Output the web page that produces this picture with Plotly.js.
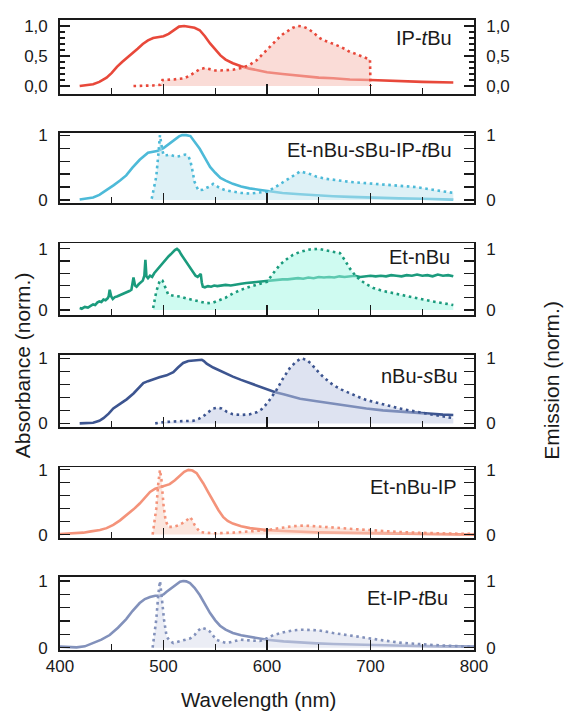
<!DOCTYPE html>
<html>
<head>
<meta charset="utf-8">
<script src="https://cdn.plot.ly/plotly-3.0.1.min.js"></script>
<style>html,body{margin:0;padding:0;background:#fff;}#chart{width:566px;height:719px;}</style>
</head>
<body>
<div id="chart"></div>
<script>
// ---------- DATA ----------
const panelNames = ["IP-<i>t</i>Bu", "Et-nBu-<i>s</i>Bu-IP-<i>t</i>Bu", "Et-nBu", "nBu-<i>s</i>Bu", "Et-nBu-IP", "Et-IP-<i>t</i>Bu"];
const xTickVals = [400, 500, 600, 700, 800];

// Panel 1: IP-tBu
const p1AbsX = [419,425,432,438,445,450,455,460,465,470,475,480,485,490,495,500,505,510,515,520,525,530,535,540,545,550,555,560,567,575,583,592,600,615,632,650,664,680,700,728,750,780];
const p1AbsY = [0.0,0.01,0.03,0.07,0.14,0.22,0.32,0.4,0.47,0.54,0.62,0.7,0.76,0.8,0.81,0.83,0.87,0.93,0.99,1.0,0.99,0.97,0.93,0.83,0.71,0.6,0.51,0.44,0.38,0.33,0.29,0.26,0.23,0.2,0.17,0.14,0.13,0.11,0.1,0.08,0.07,0.06];
const p1EmX = [471,480,490,497,499,500,505,510,515,520,525,530,535,540,545,550,555,560,567,575,583,590,595,600,605,610,615,620,625,630,635,640,645,650,655,660,665,670,675,680,685,690,695,699.5,700];
const p1EmY = [0,0.0,0.01,0.02,0.1,0.1,0.1,0.11,0.12,0.13,0.17,0.23,0.28,0.3,0.28,0.26,0.26,0.26,0.27,0.3,0.35,0.43,0.52,0.6,0.69,0.78,0.86,0.92,0.97,1.0,0.99,0.95,0.89,0.81,0.76,0.73,0.7,0.66,0.62,0.57,0.54,0.51,0.48,0.44,0.0];

// Panel 2: Et-nBu-sBu-IP-tBu
const p2AbsX = [419,425,432,438,445,452,458,464,470,477,485,490,495,500,505,510,515,518,522,526,530,535,540,545,550,555,560,567,575,583,592,600,615,632,650,664,680,696,712,728,750,780];
const p2AbsY = [0.01,0.02,0.04,0.08,0.15,0.23,0.3,0.38,0.5,0.62,0.73,0.75,0.76,0.8,0.86,0.93,0.98,1.0,1.0,0.985,0.9,0.79,0.65,0.51,0.42,0.34,0.3,0.25,0.21,0.18,0.16,0.14,0.11,0.09,0.07,0.06,0.05,0.04,0.03,0.026,0.02,0.01];
const p2EmX = [488.6,491,493,495,496.6,498,500,503,506,510,513,517,521,524,526,528,530,533.6,538,541.7,545,548,551,555,560,567,575,583.5,592,600,608,616,624,632,640,648,656,664,680,696,712,728,744,760,770,780];
const p2EmY = [0.02,0.2,0.36,0.7,1.0,0.85,0.69,0.69,0.7,0.68,0.67,0.68,0.7,0.68,0.6,0.45,0.28,0.15,0.16,0.19,0.21,0.25,0.22,0.18,0.15,0.13,0.11,0.1,0.11,0.13,0.2,0.28,0.37,0.44,0.41,0.36,0.33,0.31,0.28,0.26,0.24,0.22,0.2,0.16,0.13,0.11];

// Panel 3: Et-nBu
const p3AbsX = [419,421,424,427,430,432,434,436,438,440,442,444,446,447,448,449.5,451,453,455,458,461,464,467,469,470,471,472.5,474,476,478,480,481.5,482.5,483.5,485,487,489,491,493,495,497,499,501,503,505,507,509,511,513,515,517,519,521,523,525,527,529,531,533,535,536,537,538,540,543,546,549,552,556,560,565,570,575,580,585,590,595,600,605,610,615,620,625,630,635,640,645,650,655,660,665,670,675,680,685,690,695,700,705,710,715,720,725,730,735,740,745,750,755,760,765,770,775,780];
const p3AbsY = [0.03,0.02,0.05,0.04,0.07,0.09,0.08,0.12,0.14,0.13,0.17,0.16,0.19,0.22,0.33,0.22,0.18,0.21,0.22,0.24,0.26,0.28,0.31,0.33,0.44,0.53,0.4,0.38,0.42,0.45,0.48,0.56,0.82,0.55,0.52,0.56,0.54,0.6,0.64,0.69,0.73,0.77,0.81,0.85,0.88,0.91,0.95,0.98,1.0,0.97,0.91,0.86,0.81,0.76,0.71,0.66,0.6,0.56,0.54,0.58,0.59,0.45,0.38,0.37,0.39,0.38,0.4,0.39,0.4,0.41,0.4,0.42,0.43,0.44,0.45,0.46,0.47,0.48,0.48,0.49,0.5,0.5,0.51,0.52,0.51,0.53,0.52,0.54,0.53,0.54,0.53,0.55,0.54,0.55,0.56,0.54,0.55,0.56,0.55,0.56,0.55,0.57,0.56,0.55,0.57,0.56,0.58,0.56,0.57,0.55,0.58,0.56,0.57,0.55];
const p3EmX = [490,493,496.6,499,501,504.6,510,516,522,529,535,541.7,548,554.6,560,567,575,583.5,592,600,606,612.5,619,625,632,641.5,650,657.6,664,670.5,675,680,685,690,696,702.7,712,720,728,744,760,770,780];
const p3EmY = [0.03,0.3,0.49,0.48,0.4,0.25,0.23,0.22,0.19,0.16,0.13,0.11,0.12,0.16,0.2,0.27,0.33,0.38,0.42,0.46,0.6,0.74,0.83,0.9,0.95,0.99,1.0,0.97,0.95,0.93,0.82,0.68,0.57,0.49,0.42,0.36,0.31,0.28,0.25,0.19,0.14,0.11,0.08];

// Panel 4: nBu-sBu
const p4AbsX = [419,425,432,438,442,447,451.5,458,464.4,471,476,480.5,485,490,496,503,509.5,514,519,524,529,533,537,539,541.7,548,554.6,560,567,575,583.5,592,600,608,616,624,632,648,664,680,696,712,728,744,760.6,770,780];
const p4AbsY = [0.0,0.0,0.01,0.04,0.08,0.15,0.23,0.3,0.37,0.46,0.55,0.62,0.65,0.68,0.71,0.74,0.79,0.86,0.93,0.96,0.97,0.975,0.98,0.96,0.92,0.86,0.81,0.77,0.72,0.67,0.62,0.57,0.52,0.48,0.45,0.41,0.38,0.34,0.3,0.26,0.23,0.2,0.18,0.16,0.14,0.135,0.13];
const p4EmX = [492,500,510,520,529,534,538.5,543,548,552,556,561,567,575,583.5,590,596,602,609,615,622,628,633,638,642.6,648,654,660,664,672,680,688,696,712,728,744,760.6,770,780];
const p4EmY = [0,0.02,0.03,0.03,0.04,0.07,0.11,0.17,0.23,0.24,0.23,0.18,0.14,0.13,0.14,0.17,0.23,0.35,0.51,0.68,0.85,0.95,1.0,0.98,0.92,0.82,0.72,0.64,0.59,0.52,0.46,0.41,0.36,0.29,0.23,0.18,0.13,0.1,0.08];

// Panel 5: Et-nBu-IP
const p5AbsX = [400,410,422.5,430,438.6,445,451.5,458,464.4,471,477,482,487,492,496.6,501,506,511,516,520,524,528,532,535,538.5,543,548,553,557.8,562,567,575,583.5,592,600,616,632,648,664,696,728,760,800];
const p5AbsY = [0.01,0.015,0.03,0.05,0.07,0.1,0.15,0.22,0.3,0.39,0.48,0.57,0.66,0.71,0.73,0.75,0.78,0.84,0.92,0.97,1.0,0.99,0.95,0.88,0.79,0.66,0.51,0.38,0.27,0.21,0.17,0.13,0.1,0.085,0.07,0.055,0.04,0.035,0.03,0.022,0.015,0.01,0.0];
const p5EmX = [489.5,491,493,495,496.6,498,500,502,504.6,509.5,514,517.5,521,525.6,528,530,533,535,540,551,567,583,600,612,625,636,648,664,680,696,712,728,744.5,760,780,800];
const p5EmY = [0,0.15,0.4,0.8,1.0,0.85,0.46,0.22,0.12,0.12,0.14,0.17,0.2,0.27,0.22,0.15,0.08,0.04,0.03,0.02,0.03,0.05,0.07,0.1,0.13,0.14,0.13,0.11,0.09,0.07,0.05,0.04,0.03,0.02,0.015,0.01];

// Panel 6: Et-IP-tBu
const p6AbsX = [400,408,416,424,432,440,448,456,464,470,477,482,487,492,496.6,500,503,508,512.7,516,519,522,525.6,530,535,540,545,550,554.6,560,567,575,583.5,592,600,616,632,648,664,680,696,720,744.5,770,800];
const p6AbsY = [0.015,0.008,0.005,0.02,0.065,0.12,0.19,0.3,0.43,0.55,0.67,0.73,0.76,0.78,0.78,0.8,0.84,0.9,0.96,0.99,1.0,0.995,0.97,0.9,0.79,0.65,0.52,0.41,0.33,0.27,0.22,0.185,0.16,0.135,0.12,0.095,0.075,0.065,0.055,0.047,0.04,0.032,0.025,0.02,0.015];
const p6EmX = [489.5,491,493,495,496.6,498,500.5,503,506,509.5,514,518,522,526,530,533,537,541,545,548,551,556,561,567,574,583,593,600,606,616,625,633,641.5,650,664,680,696,712,728,744,760.6,780,800];
const p6EmY = [0,0.15,0.42,0.8,1.0,0.8,0.42,0.17,0.1,0.07,0.09,0.11,0.12,0.14,0.19,0.25,0.3,0.28,0.24,0.17,0.12,0.09,0.07,0.09,0.12,0.11,0.1,0.14,0.19,0.23,0.26,0.27,0.27,0.26,0.22,0.18,0.14,0.11,0.075,0.055,0.04,0.025,0.015];

// ---------- STYLE ----------
const absX = [p1AbsX, p2AbsX, p3AbsX, p4AbsX, p5AbsX, p6AbsX];
const absY = [p1AbsY, p2AbsY, p3AbsY, p4AbsY, p5AbsY, p6AbsY];
const emX = [p1EmX, p2EmX, p3EmX, p4EmX, p5EmX, p6EmX];
const emY = [p1EmY, p2EmY, p3EmY, p4EmY, p5EmY, p6EmY];
const lineColors = ['#e8483a', '#4dbad8', '#1b9b7d', '#3d5590', '#f4937a', '#8291bb'];
const fillColors = ['rgba(245,191,182,0.55)', 'rgba(190,228,238,0.5)', 'rgba(160,248,228,0.5)', 'rgba(190,200,228,0.5)', 'rgba(248,205,190,0.5)', 'rgba(215,220,235,0.5)'];
const yRanges = [[-0.133, 1.1], [-0.05, 1.036], [-0.08, 1.09], [-0.06, 1.06], [-0.06, 1.04], [-0.035, 1.065]];
const domains = [[0.8825, 1.0], [0.709, 0.821], [0.532, 0.6455], [0.3535, 0.469], [0.177, 0.290], [0.0, 0.1163]];
const labelPos = [[0.952, 0.9714], [0.952, 0.7937], [0.947, 0.6238], [0.966, 0.4349], [0.964, 0.2587], [0.942, 0.0825]];

const FONT = 'Liberation Sans, Arial, sans-serif';
const INK = '#1a1a1a';

const traces = [];
const layout = {
  width: 566, height: 719,
  margin: {l: 60, r: 92, t: 20, b: 69},
  paper_bgcolor: '#fff', plot_bgcolor: 'rgba(0,0,0,0)',
  showlegend: false,
  font: {family: FONT, size: 17, color: INK},
  annotations: []
};

for (let i = 0; i < 6; i++) {
  const n = i + 1;
  const xa = n === 1 ? 'x' : 'x' + n;
  const ya = n === 1 ? 'y' : 'y' + n;
  const yr = 'y' + (n + 6);
  traces.push({x: absX[i], y: absY[i], xaxis: xa, yaxis: ya, type: 'scatter', mode: 'lines',
    line: {color: lineColors[i], width: 2.6}, hoverinfo: 'skip'});
  traces.push({x: emX[i], y: emY[i], xaxis: xa, yaxis: yr, type: 'scatter', mode: 'lines',
    fill: 'tozeroy', fillcolor: fillColors[i],
    line: {color: lineColors[i], width: 2.6, dash: '2.6px,3.6px'}, hoverinfo: 'skip'});

  const isBottom = n === 6;
  layout['xaxis' + (n === 1 ? '' : n)] = {
    domain: [0, 1], anchor: ya, range: [400, 800],
    showline: true, linecolor: INK, linewidth: 1.8, mirror: true,
    ticks: 'inside', ticklen: 10, tickwidth: 1.2, tickcolor: INK,
    tickmode: 'array', tickvals: xTickVals,
    showticklabels: isBottom, tickfont: {family: FONT, size: 17, color: INK},
    minor: {ticks: 'inside', dtick: 50, tick0: 400, ticklen: 6, tickwidth: 1.2, tickcolor: INK, showgrid: false},
    showgrid: false, zeroline: false, fixedrange: true
  };
  const tv = n === 1 ? [0, 0.5, 1] : [0, 0.2, 0.4, 0.6, 0.8, 1];
  const tt = n === 1 ? ['0,0', '0,5', '1,0'] : ['0', '', '', '', '', '1'];
  const minor = n === 1 ? {ticks: 'inside', tickmode: 'array', tickvals: [0.1, 0.2, 0.3, 0.4, 0.6, 0.7, 0.8, 0.9], ticklen: 5, tickwidth: 1.2, tickcolor: INK, showgrid: false} : undefined;
  const yCommon = {
    domain: domains[i], range: yRanges[i], anchor: xa,
    showline: true, linecolor: INK, linewidth: 1.8,
    ticks: 'inside', ticklen: 10, tickwidth: 1.2, tickcolor: INK,
    tickmode: 'array', tickvals: tv, ticktext: tt,
    tickfont: {family: FONT, size: 17, color: INK},
    ticklabelstandoff: 7,
    showgrid: false, zeroline: false, fixedrange: true
  };
  if (minor) yCommon.minor = minor;
  layout['yaxis' + (n === 1 ? '' : n)] = Object.assign({}, yCommon, {side: 'left'});
  layout['yaxis' + (n + 6)] = Object.assign({}, yCommon, {side: 'right', overlaying: ya});

  layout.annotations.push({text: panelNames[i], xref: 'paper', yref: 'paper',
    x: labelPos[i][0], y: labelPos[i][1], xanchor: 'right', yanchor: 'middle', showarrow: false,
    font: {family: FONT, size: 20, color: INK}});
}

layout.annotations.push({text: 'Wavelength (nm)', xref: 'paper', yref: 'paper', x: 0.48, y: -0.079,
  xanchor: 'center', yanchor: 'middle', showarrow: false, font: {family: FONT, size: 20.5, color: INK}});
layout.annotations.push({text: 'Absorbance (norm.)', xref: 'paper', yref: 'paper', x: -0.092, y: 0.452,
  xanchor: 'center', yanchor: 'middle', textangle: -90, showarrow: false, font: {family: FONT, size: 21, color: INK}});
layout.annotations.push({text: 'Emission (norm.)', xref: 'paper', yref: 'paper', x: 1.188, y: 0.4286,
  xanchor: 'center', yanchor: 'middle', textangle: -90, showarrow: false, font: {family: FONT, size: 21, color: INK}});

Plotly.newPlot('chart', traces, layout, {staticPlot: true, displayModeBar: false});
</script>
</body>
</html>
